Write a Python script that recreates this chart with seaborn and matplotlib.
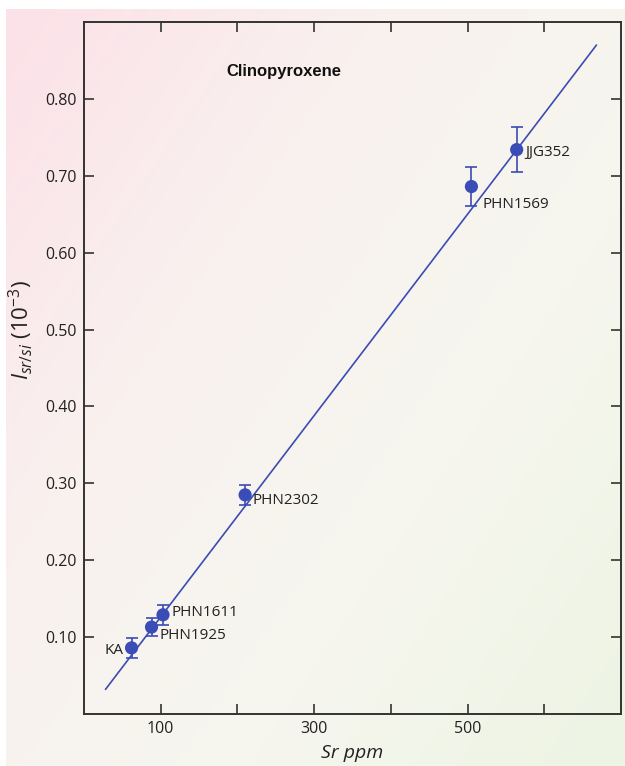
import numpy as np
import matplotlib
matplotlib.use("Agg")
import matplotlib.pyplot as plt
from matplotlib.colors import LinearSegmentedColormap
import seaborn as sns
import pandas as pd

# Clinopyroxene standards: Sr content vs. Sr/Si intensity ratio
samples = ["KA", "PHN1925", "PHN1611", "PHN2302", "PHN1569", "JJG352"]
sr_ppm = [62, 88, 103, 210, 505, 564]
intensity = [0.086, 0.113, 0.129, 0.285, 0.686, 0.734]
intensity_err = [0.013, 0.012, 0.013, 0.013, 0.025, 0.029]

# calibration line end points
fit_sr = [28, 668]
fit_intensity = [0.032, 0.870]

x_ticks = [100, 200, 300, 400, 500, 600]
x_ticklabels = ["100", "", "300", "", "500", ""]
y_ticks = [0.1, 0.2, 0.3, 0.4, 0.5, 0.6, 0.7, 0.8]
y_ticklabels = ["0.10", "0.20", "0.30", "0.40", "0.50", "0.60", "0.70", "0.80"]

df = pd.DataFrame({"sample": samples, "sr": sr_ppm, "i": intensity, "err": intensity_err})

sns.set_theme(style="ticks")
plt.rcParams["font.family"] = ["Open Sans", "DejaVu Sans"]
plt.rcParams["mathtext.fontset"] = "custom"
plt.rcParams["mathtext.rm"] = "Open Sans"
plt.rcParams["mathtext.it"] = "Open Sans:italic"

W, H = 625, 766
fig = plt.figure(figsize=(W / 100, H / 100), dpi=100)
fig.patch.set_facecolor("white")

# diagonal pink-to-green backdrop
bg = fig.add_axes([6 / W, 0, 1 - 6 / W, 1 - 9 / H], zorder=-10)
gx, gy = np.meshgrid(np.linspace(0, 1, 300), np.linspace(0, 1, 300))
t = (gx * 0.55 + gy * 0.45)
cmap = LinearSegmentedColormap.from_list(
    "bgfade", ["#fce1e8", "#f9f1ef", "#f6f6ee", "#edf4e3"])
bg.imshow(t, cmap=cmap, aspect="auto", origin="upper", extent=[0, 1, 0, 1])
bg.set_axis_off()

left, right, top, bottom = 84, 621, 22, 714
ax = fig.add_axes([left / W, 1 - bottom / H, (right - left) / W, (bottom - top) / H])
ax.set_facecolor("none")

blue = "#3a4cb5"
ax.plot(fit_sr, fit_intensity, color=blue, lw=1.2, zorder=2)
ax.errorbar(df["sr"], df["i"], yerr=df["err"], fmt="none", ecolor=blue,
            elinewidth=1.2, capsize=4, capthick=1.2, zorder=3)
sns.scatterplot(data=df, x="sr", y="i", ax=ax, color=blue, s=90,
                edgecolor="none", zorder=4, legend=False)

label_pos = {
    "KA": (-6, -2, "right", "center"),
    "PHN1925": (6, -6, "left", "center"),
    "PHN1611": (6, 2, "left", "center"),
    "PHN2302": (5, -4, "left", "center"),
    "PHN1569": (8, -13, "left", "center"),
    "JJG352": (6, -2, "left", "center"),
}
for s, x, y in zip(samples, sr_ppm, intensity):
    dx, dy, ha, va = label_pos[s]
    ax.annotate(s, (x, y), xytext=(dx, dy), textcoords="offset points",
                ha=ha, va=va, fontsize=11, color="#222222")

ax.set_xlim(0, 700)
ax.set_ylim(0, 0.9)
ax.set_xticks(x_ticks)
ax.set_xticklabels(x_ticklabels)
ax.set_yticks(y_ticks)
ax.set_yticklabels(y_ticklabels)
ax.tick_params(direction="in", length=7, width=1.2, color="#333333",
               top=True, right=True, labelsize=11.5, labelcolor="#222222", pad=5)
for sp in ax.spines.values():
    sp.set_visible(True)
    sp.set_color("#333333")
    sp.set_linewidth(1.4)

ax.set_xlabel("Sr ppm", fontsize=14, fontstyle="italic", color="#222222", labelpad=5)
ax.set_ylabel(r"$I_{sr/si}$ $(10^{-3})$", fontsize=16, fontstyle="italic",
              color="#222222", labelpad=6)
ax.yaxis.set_label_coords(-0.092, 0.555)
ax.text(0.372, 0.928, "Clinopyroxene", transform=ax.transAxes, ha="center",
        va="center", fontsize=12, fontweight="bold", color="#111111",
        family=["Liberation Sans", "DejaVu Sans"])

fig.savefig("out.png", dpi=100)
